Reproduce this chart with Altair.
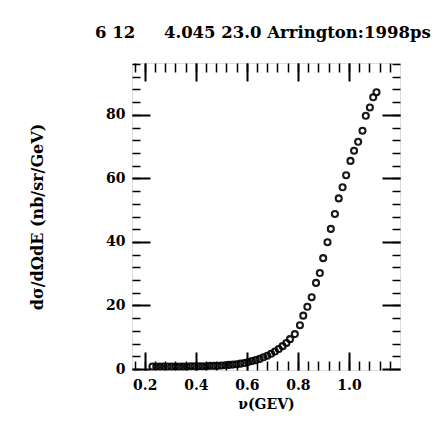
import altair as alt
import pandas as pd

nu = [0.230, 0.245, 0.260, 0.275, 0.290, 0.305, 0.320, 0.335, 0.350, 0.365,
      0.380, 0.395, 0.410, 0.425, 0.440, 0.455, 0.470, 0.485, 0.500, 0.515,
      0.530, 0.545, 0.560, 0.575, 0.590, 0.605, 0.620, 0.635, 0.650, 0.665,
      0.680, 0.695, 0.710, 0.725, 0.740, 0.755, 0.769, 0.788, 0.808, 0.821,
      0.837, 0.854, 0.871, 0.886, 0.899, 0.916, 0.929, 0.945, 0.960, 0.975,
      0.989, 1.006, 1.020, 1.036, 1.053, 1.066, 1.082, 1.095, 1.108]
xs = [0.8, 0.8, 0.8, 0.8, 0.8, 0.8, 0.8, 0.8, 0.8, 0.8,
      0.9, 0.9, 0.9, 0.9, 0.9, 1.0, 1.0, 1.0, 1.1, 1.2,
      1.3, 1.4, 1.5, 1.7, 1.9, 2.2, 2.5, 2.8, 3.2, 3.7,
      4.2, 4.8, 5.5, 6.3, 7.2, 8.2, 9.4, 11.0, 13.8, 16.8,
      19.6, 22.6, 27.1, 30.2, 34.9, 39.9, 44.1, 48.8, 53.7, 57.2,
      61.0, 65.5, 68.7, 71.5, 75.0, 79.7, 82.3, 85.5, 87.1]

x_major = [0.2, 0.4, 0.6, 0.8, 1.0]
x_minor = [0.16, 0.2, 0.24, 0.28, 0.32, 0.36, 0.4, 0.44, 0.48, 0.52, 0.56, 0.6,
           0.64, 0.68, 0.72, 0.76, 0.8, 0.84, 0.88, 0.92, 0.96, 1.0, 1.04,
           1.08, 1.12, 1.16]
y_major = [0, 20, 40, 60, 80]
y_minor = [0, 4, 8, 12, 16, 20, 24, 28, 32, 36, 40, 44, 48, 52, 56, 60, 64,
           68, 72, 76, 80, 84, 88, 92, 96]

title_text = "6 12\u00a0\u00a0\u00a0\u00a0\u00a04.045 23.0 Arrington:1998ps"
x_title = "\u03bd(GEV)"
y_title = "d\u03c3/d\u03a9dE (nb/sr/GeV)"

W, H = 268, 307
FONT = "DejaVu Serif"

df = pd.DataFrame({"nu": nu, "xs": xs})
xscale = alt.Scale(domain=[0.15, 1.2], nice=False, zero=False)
yscale = alt.Scale(domain=[-0.3, 96.3], nice=False, zero=False)

base = alt.Chart(df)

points = base.mark_point(shape="circle", filled=False, color="black",
                         size=36, strokeWidth=2.1, opacity=0.9).encode(
    x=alt.X("nu:Q", scale=xscale, axis=alt.Axis(
        orient="bottom", values=x_major, format=".1f", ticks=False, domain=False,
        grid=False, labelFont=FONT, labelFontWeight="bold", labelFontSize=14,
        labelColor="black", labelPadding=8, title=x_title, titleFont=FONT,
        titleFontSize=14, titleFontWeight="bold", titleColor="black",
        titlePadding=5)),
    y=alt.Y("xs:Q", scale=yscale, axis=alt.Axis(
        orient="left", values=y_major, ticks=False, domain=False, grid=False,
        labelFont=FONT, labelFontWeight="bold", labelFontSize=14,
        labelColor="black", labelPadding=7, title=y_title, titleFont=FONT,
        titleFontSize=16, titleFontWeight="bold", titleColor="black",
        titlePadding=60)),
)


def xticks(orient, offset, values, size, width):
    return base.mark_point(opacity=0).encode(
        x=alt.X("nu:Q", scale=xscale, title=None, axis=alt.Axis(
            orient=orient, offset=offset, values=values, labels=False,
            domain=False, grid=False, tickSize=size, tickWidth=width,
            tickColor="black")),
        y=alt.Y("xs:Q", scale=yscale, axis=None),
    )


def yticks(orient, offset, values, size, width):
    return base.mark_point(opacity=0).encode(
        x=alt.X("nu:Q", scale=xscale, axis=None),
        y=alt.Y("xs:Q", scale=yscale, title=None, axis=alt.Axis(
            orient=orient, offset=offset, values=values, labels=False,
            domain=False, grid=False, tickSize=size, tickWidth=width,
            tickColor="black")),
    )


layers = [
    xticks("top", -H, x_major, 18, 2),
    xticks("top", -H, x_minor, 9, 1.5),
    xticks("bottom", -H, x_major, 18, 2),
    xticks("bottom", -H, x_minor, 9, 1.5),
    yticks("right", -W, y_major, 18, 2),
    yticks("right", -W, y_minor, 8, 1.5),
    yticks("left", -W, y_major, 18, 2),
    yticks("left", -W, y_minor, 8, 1.5),
    points,
]

chart = alt.layer(*layers).resolve_axis(x="independent", y="independent").properties(
    width=W, height=H,
    autosize=alt.AutoSizeParams(type="none"),
    padding={"left": 132, "top": 63, "right": 45, "bottom": 60},
    title=alt.TitleParams(title_text, anchor="start", frame="group", dx=-37,
                          offset=8, font=FONT, fontSize=16.5, fontWeight="bold",
                          color="black", baseline="alphabetic"),
).configure_view(stroke="black", strokeWidth=2).configure(background="white")

chart.save("out.html", embed_options={"renderer": "svg", "actions": False})
